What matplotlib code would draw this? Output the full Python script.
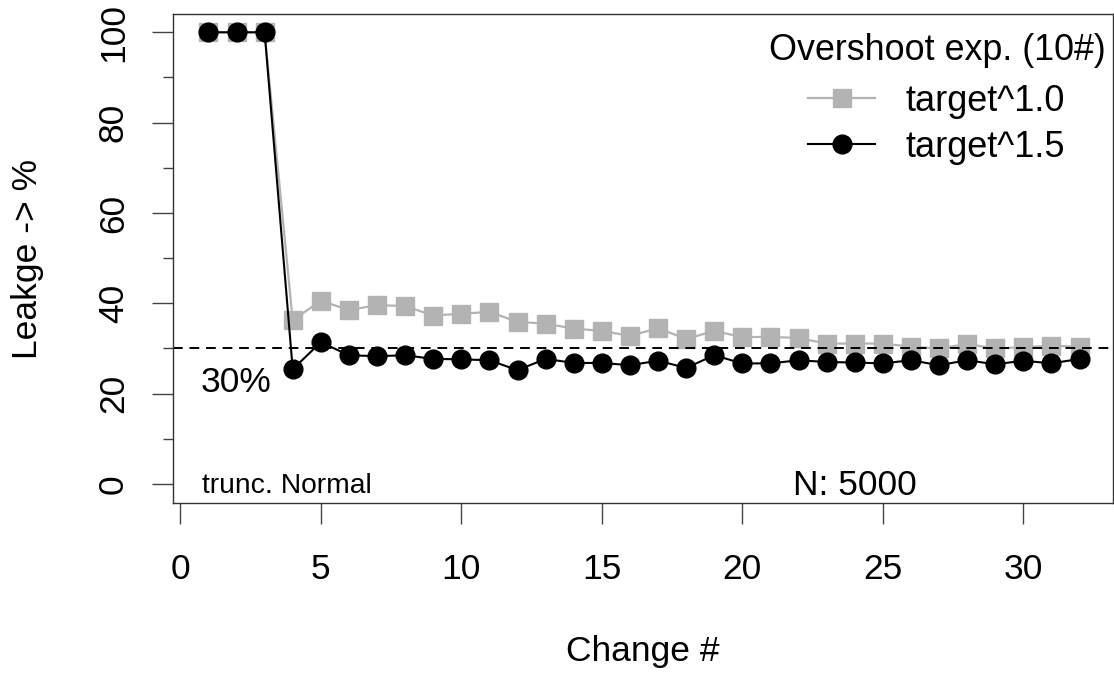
import numpy as np
import matplotlib
matplotlib.use("Agg")
import matplotlib.pyplot as plt
from matplotlib.ticker import MultipleLocator

plt.rcParams['font.family'] = ['Liberation Sans', 'DejaVu Sans']

# values
change = list(range(1, 33))
leak_10 = [100, 100, 100, 36.2, 40.6, 38.5, 39.6, 39.4, 37.3, 37.7, 38.1, 35.9,
           35.5, 34.4, 33.9, 32.8, 34.5, 32.1, 33.9, 32.5, 32.6, 32.3, 31.1, 31.1,
           31.1, 30.4, 30.0, 31.0, 30.0, 30.3, 30.6, 30.4]
leak_15 = [100, 100, 100, 25.4, 31.4, 28.5, 28.3, 28.5, 27.7, 27.6, 27.4, 25.2,
           27.7, 26.8, 26.8, 26.3, 27.3, 25.7, 28.5, 26.7, 26.7, 27.4, 27.0, 26.9,
           26.7, 27.4, 26.3, 27.4, 26.5, 27.3, 26.7, 27.7]
target_pct = 30
x_ticks = [0, 5, 10, 15, 20, 25, 30]
y_ticks = [0, 20, 40, 60, 80, 100]

fig = plt.figure(figsize=(11.14, 6.79), dpi=100)
ax = fig.add_axes([173/1114, 1 - 503.3/679, 940/1114, 489.3/679])

ax.plot(change, leak_10, color='#b3b3b3', lw=1.6, marker='s', ms=12.5,
        mec='#b3b3b3', mfc='#b3b3b3', zorder=2, label='target^1.0')
ax.axhline(target_pct, color='black', lw=1.4, dashes=(5, 3.5), zorder=2.5)
ax.plot(change, leak_15, color='black', lw=1.5, marker='o', ms=13.5,
        zorder=3, label='target^1.5')

ax.set_xlim(-0.26, 33.19)
ax.set_ylim(-4.27, 104.05)
ax.set_xticks(x_ticks)
ax.set_yticks(y_ticks)
ax.yaxis.set_minor_locator(MultipleLocator(10))

for s in ax.spines.values():
    s.set_color('#333333')
    s.set_linewidth(1.0)

ax.tick_params(axis='both', which='major', direction='out', length=15, width=1.0,
               color='#444444', labelsize=25.5)
ax.tick_params(axis='x', pad=21)
ax.tick_params(axis='y', pad=16)
ax.tick_params(axis='y', which='minor', direction='out', length=7.2, width=1.0,
               color='#444444')
for lab in ax.get_yticklabels():
    lab.set_rotation(90)
    lab.set_va('center')
    lab.set_ha('right')

ax.set_xlabel('Change #', fontsize=25.5)
ax.set_ylabel('Leakge -> %', fontsize=25.5)
ax.xaxis.set_label_coords(0.5, -0.269)
ax.yaxis.set_label_coords(-0.1373, 0.5)

ax.text(0.74, 20.4, '30%', fontsize=25.5, va='baseline', ha='left')
ax.text(0.77, -2.0, 'trunc. Normal', fontsize=20.3, va='baseline', ha='left')
ax.text(24.0, -2.4, 'N: 5000', fontsize=25.5, va='baseline', ha='center')

# legend title as its own text, entries below it
ax.text(0.8133, 0.906, 'Overshoot exp. (10#)', fontsize=25.8, ha='center',
        va='baseline', transform=ax.transAxes)
leg = ax.legend(loc='upper left', bbox_to_anchor=(0.6755, 0.857), frameon=False,
                fontsize=26, handlelength=1.86, handletextpad=0.83,
                labelspacing=0.3, borderaxespad=0, borderpad=0)

fig.savefig('out.png', dpi=100)
